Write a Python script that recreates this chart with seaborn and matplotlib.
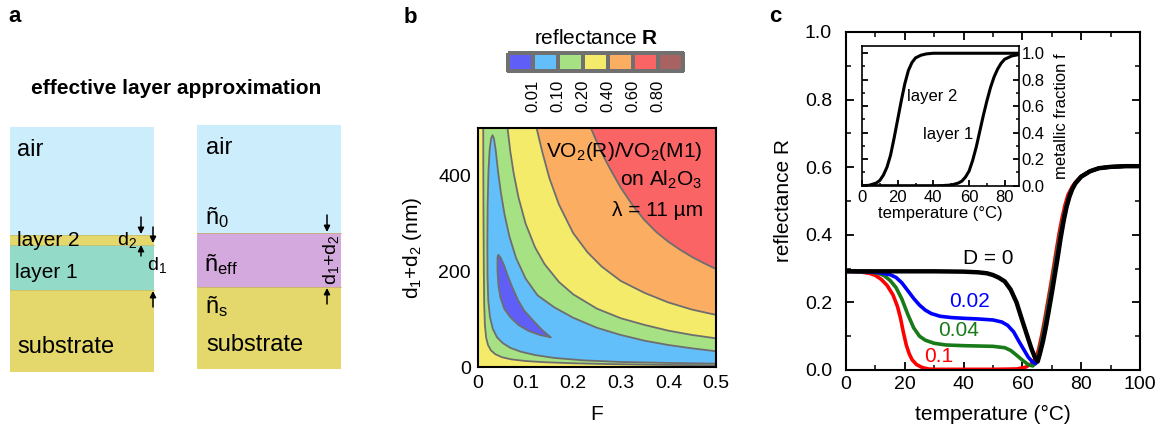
import numpy as np
import pandas as pd
import matplotlib
matplotlib.use("Agg")
import matplotlib.pyplot as plt
import seaborn as sns
from matplotlib.patches import Rectangle
from matplotlib.colors import ListedColormap
from matplotlib.ticker import MultipleLocator, FuncFormatter

# ---------------------------------------------------------------- data
# reflectance colour scale
level_labels = ["0.01", "0.10", "0.20", "0.40", "0.60", "0.80"]
level_colors = ["#5f5ff7", "#63bffa", "#a6e283", "#f5eb6b", "#fbae62", "#fa6464", "#a86262"]

# iso-reflectance lines: filling factor F vs total thickness d1+d2 (nm)
iso060_F = [0.237, 0.25, 0.265, 0.28, 0.30, 0.325, 0.35, 0.375, 0.40, 0.425, 0.45, 0.475, 0.50]
iso060_d = [500, 470, 438, 410, 375, 338, 307, 282, 262, 245, 230, 217, 205]

iso040_F = [0.123, 0.135, 0.15, 0.17, 0.20, 0.23, 0.26, 0.30, 0.35, 0.40, 0.45, 0.50]
iso040_d = [500, 450, 395, 340, 280, 240, 210, 180, 155, 135, 120, 109]

iso020_outer_F = [0.062, 0.068, 0.075, 0.085, 0.10, 0.12, 0.14, 0.17, 0.20, 0.25, 0.30, 0.35, 0.40, 0.45, 0.50]
iso020_outer_d = [500, 450, 405, 355, 300, 250, 215, 178, 152, 122, 102, 88, 76, 67, 60]

iso020_inner_F = [0.011, 0.0112, 0.0116, 0.0122, 0.013, 0.0145, 0.017, 0.021, 0.027, 0.036, 0.05,
                  0.07, 0.10, 0.14, 0.20, 0.28, 0.38, 0.50]
iso020_inner_d = [500, 400, 300, 200, 130, 88, 62, 46, 35, 27, 20.5, 16, 12.5, 10, 7.8, 6, 4.5, 3.5]

iso010_F = [0.50, 0.40, 0.30, 0.22, 0.16, 0.12, 0.09, 0.068, 0.052, 0.04, 0.031, 0.025, 0.0215, 0.020,
            0.0197, 0.0203, 0.022, 0.0245, 0.0275, 0.0305, 0.0335, 0.037, 0.042, 0.048, 0.056, 0.066,
            0.08, 0.10, 0.125, 0.16, 0.20, 0.25, 0.30, 0.35, 0.40, 0.45, 0.50]
iso010_d = [7, 8.5, 10.5, 14, 19, 25, 32, 40, 50, 62, 80, 105, 140, 190,
            260, 340, 410, 455, 478, 485, 478, 455, 410, 365, 318, 273,
            228, 185, 150, 125, 103, 82, 67, 55, 46, 39, 33]

iso001_F = [0.043, 0.048, 0.055, 0.062, 0.072, 0.084, 0.097, 0.115, 0.135, 0.153,
            0.13, 0.105, 0.085, 0.068, 0.055, 0.047, 0.043, 0.041, 0.041]
iso001_d = [234, 228, 212, 192, 167, 140, 118, 98, 77, 62,
            67, 76, 88, 104, 122, 146, 170, 200, 230]

# reflectance vs temperature for several D
temp_D0 = [0, 10, 20, 30, 40, 45, 48, 50, 52, 54, 56, 58, 60, 61.5, 63, 64.2, 65.2, 66, 67, 68, 69, 70,
           71, 72, 73, 74, 75, 76, 77, 78, 80, 83, 86, 90, 95, 100]
refl_D0 = [0.292, 0.292, 0.292, 0.292, 0.291, 0.289, 0.286, 0.281, 0.273, 0.262, 0.238, 0.200, 0.145,
           0.105, 0.065, 0.038, 0.025, 0.050, 0.085, 0.128, 0.177, 0.227, 0.280, 0.333, 0.390, 0.440,
           0.482, 0.513, 0.536, 0.552, 0.572, 0.588, 0.597, 0.601, 0.603, 0.603]

temp_D002 = [0, 8, 12, 15, 17, 19, 21, 23, 25, 27, 29, 32, 36, 40, 45, 50, 53, 55, 57, 59, 60.5, 62,
             63.3, 64.5, 65.5, 66.5, 67.5, 68.5, 69.5, 70.5, 71.5, 72.5, 73.5, 74.5, 75.5, 76.5, 78, 80,
             83, 86, 90, 95, 100]
refl_D002 = [0.292, 0.291, 0.287, 0.282, 0.274, 0.258, 0.235, 0.212, 0.192, 0.177, 0.167, 0.159, 0.155,
             0.153, 0.151, 0.148, 0.142, 0.132, 0.113, 0.082, 0.060, 0.038, 0.025, 0.019, 0.035, 0.070,
             0.113, 0.160, 0.210, 0.262, 0.315, 0.370, 0.420, 0.465, 0.500, 0.527, 0.552, 0.572, 0.588,
             0.597, 0.601, 0.603, 0.603]

temp_D004 = [0, 8, 11, 13, 15, 17, 19, 21, 23, 25, 27, 30, 34, 40, 50, 54, 56, 58, 60, 62, 63.5, 64.5,
             65.5, 66.5, 67.5, 68.5, 69.5, 70.5, 71.5, 72.5, 73.5, 74.5, 75.5, 76.5, 78, 80, 83, 86, 90,
             95, 100]
refl_D004 = [0.292, 0.290, 0.286, 0.279, 0.265, 0.244, 0.210, 0.165, 0.125, 0.100, 0.088, 0.079, 0.074,
             0.072, 0.070, 0.066, 0.058, 0.044, 0.029, 0.016, 0.012, 0.020, 0.045, 0.085, 0.130, 0.178,
             0.228, 0.280, 0.333, 0.385, 0.432, 0.472, 0.505, 0.530, 0.552, 0.572, 0.588, 0.597, 0.601,
             0.603, 0.603]

temp_D01 = [0, 5, 8, 10, 12, 14, 16, 17.5, 18.5, 19.5, 20.5, 21.5, 22.5, 24, 26, 28, 30, 40, 50, 58,
            61, 63, 64.5, 65.5, 66.5, 67.5, 68.5, 69.5, 70.5, 71.5, 72.5, 73.5, 74.5, 75.5, 77, 78, 80,
            83, 86, 90, 95, 100]
refl_D01 = [0.292, 0.290, 0.286, 0.280, 0.268, 0.250, 0.222, 0.188, 0.155, 0.112, 0.074, 0.048, 0.030,
            0.016, 0.007, 0.003, 0.002, 0.002, 0.002, 0.003, 0.008, 0.018, 0.035, 0.060, 0.100, 0.145,
            0.195, 0.245, 0.298, 0.352, 0.405, 0.450, 0.488, 0.518, 0.543, 0.555, 0.573, 0.588, 0.597,
            0.601, 0.603, 0.603]

# metallic fraction of the two layers vs temperature
temp_inset = [0, 4, 8, 10, 12, 14, 16, 18, 20, 22, 24, 26, 28, 30, 33, 36, 40, 45, 50, 54, 56, 58, 60,
              62, 64, 66, 68, 70, 72, 74, 76, 78, 80, 84, 88]
frac_layer2 = [0, 0.003, 0.02, 0.04, 0.08, 0.14, 0.23, 0.36, 0.50, 0.64, 0.77, 0.87, 0.93, 0.965, 0.985,
               0.995, 1.0, 1.0, 1.0, 1.0, 1.0, 1.0, 1.0, 1.0, 1.0, 1.0, 1.0, 1.0, 1.0, 1.0, 1.0, 1.0,
               1.0, 1.0, 1.0]
frac_layer1 = [0, 0, 0, 0, 0, 0, 0, 0, 0, 0, 0, 0, 0, 0, 0, 0, 0, 0.001, 0.005, 0.02, 0.035, 0.065,
               0.11, 0.19, 0.29, 0.41, 0.53, 0.64, 0.74, 0.82, 0.88, 0.925, 0.955, 0.98, 0.99]

# ---------------------------------------------------------------- style
sns.set_theme(style="ticks")
plt.rcParams["font.family"] = ["Liberation Sans", "DejaVu Sans"]
plt.rcParams.update({
    "mathtext.fontset": "custom",
    "mathtext.rm": "Liberation Sans",
    "mathtext.it": "Liberation Sans:italic",
    "mathtext.bf": "Liberation Sans:bold",
    "text.color": "black", "axes.labelcolor": "black",
    "xtick.color": "black", "ytick.color": "black", "axes.edgecolor": "black",
    "axes.linewidth": 1.5,
    "xtick.direction": "in", "ytick.direction": "in",
    "xtick.top": True, "ytick.right": True,
    "xtick.major.size": 6, "ytick.major.size": 6,
    "xtick.minor.size": 3.5, "ytick.minor.size": 3.5,
    "xtick.major.width": 1.3, "ytick.major.width": 1.3,
    "xtick.minor.width": 1.1, "ytick.minor.width": 1.1,
})

W, H = 1163, 434
fig = plt.figure(figsize=(W / 100, H / 100), dpi=100)


def px_rect(left, top, right, bottom):
    return [left / W, 1 - bottom / H, (right - left) / W, (bottom - top) / H]


for lab, x, y in [("a", 15, 22), ("b", 410, 23), ("c", 775, 22)]:
    fig.text(x / W, 1 - y / H, lab, fontsize=16, fontweight="bold", ha="center", va="baseline")

# ---------------------------------------------------------------- panel a: layer schematic
ax_a = fig.add_axes([0, 0, 350 / W, 1])
ax_a.set_xlim(0, 350)
ax_a.set_ylim(H, 0)
ax_a.axis("off")

c_air, c_sub, c_l1, c_eff = "#ccedfc", "#e4d86c", "#93dbc8", "#d4a9dd"
left_stack = [(127, 235, c_air), (235, 245, c_sub), (245, 290, c_l1), (290, 372, c_sub)]
right_stack = [(125, 233, c_air), (233, 287, c_eff), (287, 369, c_sub)]
for top, bot, col in left_stack:
    ax_a.add_patch(Rectangle((10, top), 144, bot - top, facecolor=col, edgecolor="none"))
for top, bot, col in right_stack:
    ax_a.add_patch(Rectangle((197, top), 144, bot - top, facecolor=col, edgecolor="none"))
for y in (235, 245, 290):
    ax_a.plot([10, 154], [y, y], color="#c8c070", lw=0.6)
for y in (233, 287):
    ax_a.plot([197, 341], [y, y], color="#c8b070", lw=0.6)

ax_a.text(176, 88, "effective layer approximation", fontsize=15, fontweight="bold",
          ha="center", va="center")
ax_a.text(17, 150, "air", fontsize=17, va="center")
ax_a.text(17, 240, "layer 2", fontsize=15, va="center")
ax_a.text(15, 272, "layer 1", fontsize=15, va="center")
ax_a.text(17, 347, "substrate", fontsize=17, va="center")
ax_a.text(206, 148, "air", fontsize=17, va="center")
ax_a.text(205, 218, r"ñ$_0$", fontsize=17, va="center")
ax_a.text(204, 265, r"ñ$_\mathrm{eff}$", fontsize=17, va="center")
ax_a.text(205, 307, r"ñ$_\mathrm{s}$", fontsize=17, va="center")
ax_a.text(206, 345, "substrate", fontsize=17, va="center")
ax_a.text(127, 240, r"d$_2$", fontsize=14, ha="center", va="center")
ax_a.text(157, 265, r"d$_1$", fontsize=14, ha="center", va="center")
ax_a.text(331, 260, r"d$_1$+d$_2$", fontsize=14, ha="center", va="center", rotation=90)

arrow = dict(arrowstyle="-|>", color="black", lw=1.1, mutation_scale=9, shrinkA=0, shrinkB=0)
for x, y0, y1 in [(141, 217, 234), (141, 256, 245), (153, 227, 243), (153, 307, 291),
                  (327, 215, 232), (327, 304, 288)]:
    ax_a.annotate("", xy=(x, y1), xytext=(x, y0), arrowprops=arrow)

# ---------------------------------------------------------------- panel b: colour scale
ax_cb = fig.add_axes(px_rect(508, 53, 683, 71))
sns.heatmap(np.arange(7).reshape(1, 7), cmap=ListedColormap(level_colors), cbar=False,
            linewidths=1.6, linecolor="#707070", ax=ax_cb)
ax_cb.collections[0].set_clip_on(False)
ax_cb.set_xticks(np.arange(1, 7))
ax_cb.set_xticklabels(level_labels, rotation=90, fontsize=12)
ax_cb.set_yticks([])
ax_cb.tick_params(axis="x", length=0, pad=6, top=False)
ax_cb.tick_params(axis="y", left=False, right=False)
fig.text(596 / W, 1 - 38 / H, r"reflectance $\mathbf{R}$", fontsize=15, ha="center", va="center")

# ---------------------------------------------------------------- panel b: reflectance map
ax_b = fig.add_axes(px_rect(478, 128, 716, 367))
ax_b.set_xlim(0, 0.5)
ax_b.set_ylim(0, 500)
line_col, line_w = "#6e6e6e", 1.3

ax_b.fill([0, 0.5, 0.5, 0], [0, 0, 500, 500], color=level_colors[3], lw=0)
ax_b.fill(iso020_inner_F + iso020_outer_F[::-1], iso020_inner_d + iso020_outer_d[::-1],
          color=level_colors[2], lw=0)
ax_b.fill(iso010_F, iso010_d, color=level_colors[1], lw=0)
ax_b.fill(iso001_F, iso001_d, color=level_colors[0], lw=0)
ax_b.fill(iso040_F + [0.5], iso040_d + [500], color=level_colors[4], lw=0)
ax_b.fill(iso060_F + [0.5], iso060_d + [500], color=level_colors[5], lw=0)
ax_b.fill([0.18, 0.30, 0.40, 0.50, 0.50], [0, 1.5, 2.2, 3.0, 0], color="#858585", lw=0)

for fx, dy in [(iso060_F, iso060_d), (iso040_F, iso040_d), (iso020_outer_F, iso020_outer_d),
               (iso020_inner_F, iso020_inner_d), (iso010_F, iso010_d),
               (iso001_F + iso001_F[:1], iso001_d + iso001_d[:1])]:
    ax_b.plot(fx, dy, color=line_col, lw=line_w)

ax_b.xaxis.set_major_locator(MultipleLocator(0.1))
ax_b.xaxis.set_minor_locator(MultipleLocator(0.05))
ax_b.yaxis.set_major_locator(MultipleLocator(200))
ax_b.yaxis.set_minor_locator(MultipleLocator(50))
ax_b.xaxis.set_major_formatter(FuncFormatter(lambda v, p: "0" if abs(v) < 1e-9 else f"{v:.1f}"))
ax_b.tick_params(which="both", top=True, right=True, labelsize=14)
ax_b.tick_params(axis="x", pad=6)
ax_b.tick_params(axis="y", pad=5)
ax_b.set_xlabel("F", fontsize=15, va="center")
ax_b.set_ylabel(r"d$_1$+d$_2$ (nm)", fontsize=15, va="center")
ax_b.xaxis.set_label_coords(0.5, -0.20)
ax_b.yaxis.set_label_coords(-0.277, 0.5)
ax_b.text(0.472, 450, r"VO$_2$(R)/VO$_2$(M1)", fontsize=15, ha="right", va="center")
ax_b.text(0.472, 391, r"on Al$_2$O$_3$", fontsize=15, ha="right", va="center")
ax_b.text(0.472, 328, "λ = 11 µm", fontsize=15, ha="right", va="center")

# ---------------------------------------------------------------- panel c: R(T)
ax_c = fig.add_axes(px_rect(846, 32, 1140, 370))
curves = [
    ("0.1", temp_D01, refl_D01, "#ff0000", 2.6),
    ("0.04", temp_D004, refl_D004, "#187a18", 2.6),
    ("0.02", temp_D002, refl_D002, "#0000ff", 2.6),
    ("0", temp_D0, refl_D0, "black", 3.2),
]
for name, t, r, col, lw in curves:
    df = pd.DataFrame({"temperature": t, "R": r})
    sns.lineplot(data=df, x="temperature", y="R", color=col, lw=lw, ax=ax_c,
                 estimator=None, sort=False)
ax_c.set_xlim(0, 100)
ax_c.set_ylim(0, 1.0)
ax_c.xaxis.set_major_locator(MultipleLocator(20))
ax_c.xaxis.set_minor_locator(MultipleLocator(10))
ax_c.yaxis.set_major_locator(MultipleLocator(0.2))
ax_c.yaxis.set_minor_locator(MultipleLocator(0.1))
ax_c.yaxis.set_major_formatter(FuncFormatter(lambda v, p: f"{v:.1f}"))
ax_c.tick_params(which="both", top=True, right=True, labelsize=14)
ax_c.tick_params(axis="x", pad=4.5)
ax_c.tick_params(axis="y", pad=10)
ax_c.set_xlabel("temperature (°C)", fontsize=15, va="center")
ax_c.set_ylabel("reflectance R", fontsize=15, va="center")
ax_c.xaxis.set_label_coords(0.5, -0.133)
ax_c.yaxis.set_label_coords(-0.214, 0.5)

ax_c.text(48.4, 0.331, "D = 0", fontsize=15, color="black", ha="center", va="center")
ax_c.text(42.1, 0.202, "0.02", fontsize=15, color="#0000ff", ha="center", va="center")
ax_c.text(38.3, 0.118, "0.04", fontsize=15, color="#187a18", ha="center", va="center")
ax_c.text(31.6, 0.039, "0.1", fontsize=15, color="#ff0000", ha="center", va="center")

# ---------------------------------------------------------------- panel c inset: metallic fraction
ax_in = fig.add_axes(px_rect(862, 45.7, 1019, 185.7))
ax_in.set_facecolor("white")
for frac in (frac_layer2, frac_layer1):
    df = pd.DataFrame({"temperature": temp_inset, "f": frac})
    sns.lineplot(data=df, x="temperature", y="f", color="black", lw=2.2, ax=ax_in,
                 estimator=None, sort=False)
ax_in.set_xlim(0, 88)
ax_in.set_ylim(0, 1.057)
ax_in.xaxis.set_major_locator(MultipleLocator(20))
ax_in.xaxis.set_minor_locator(MultipleLocator(10))
ax_in.yaxis.set_major_locator(MultipleLocator(0.2))
ax_in.yaxis.set_minor_locator(MultipleLocator(0.1))
ax_in.yaxis.set_major_formatter(FuncFormatter(lambda v, p: f"{v:.1f}"))
ax_in.tick_params(which="both", top=False, right=True, left=True, labelleft=False,
                  labelright=True, labelsize=12, length=4)
ax_in.tick_params(which="minor", length=2.5)
ax_in.tick_params(axis="x", pad=3)
ax_in.tick_params(axis="y", pad=2)
for s in ax_in.spines.values():
    s.set_linewidth(1.2)
ax_in.yaxis.set_label_position("right")
ax_in.set_xlabel("temperature (°C)", fontsize=12, va="center")
ax_in.set_ylabel("metallic fraction f", fontsize=12, va="center", rotation=90)
ax_in.xaxis.set_label_coords(0.5, -0.2)
ax_in.yaxis.set_label_coords(1.268, 0.5)
ax_in.text(25.1, 0.672, "layer 2", fontsize=12, ha="left", va="center")
ax_in.text(62.3, 0.383, "layer 1", fontsize=12, ha="right", va="center")

fig.savefig("out.png", dpi=100)
